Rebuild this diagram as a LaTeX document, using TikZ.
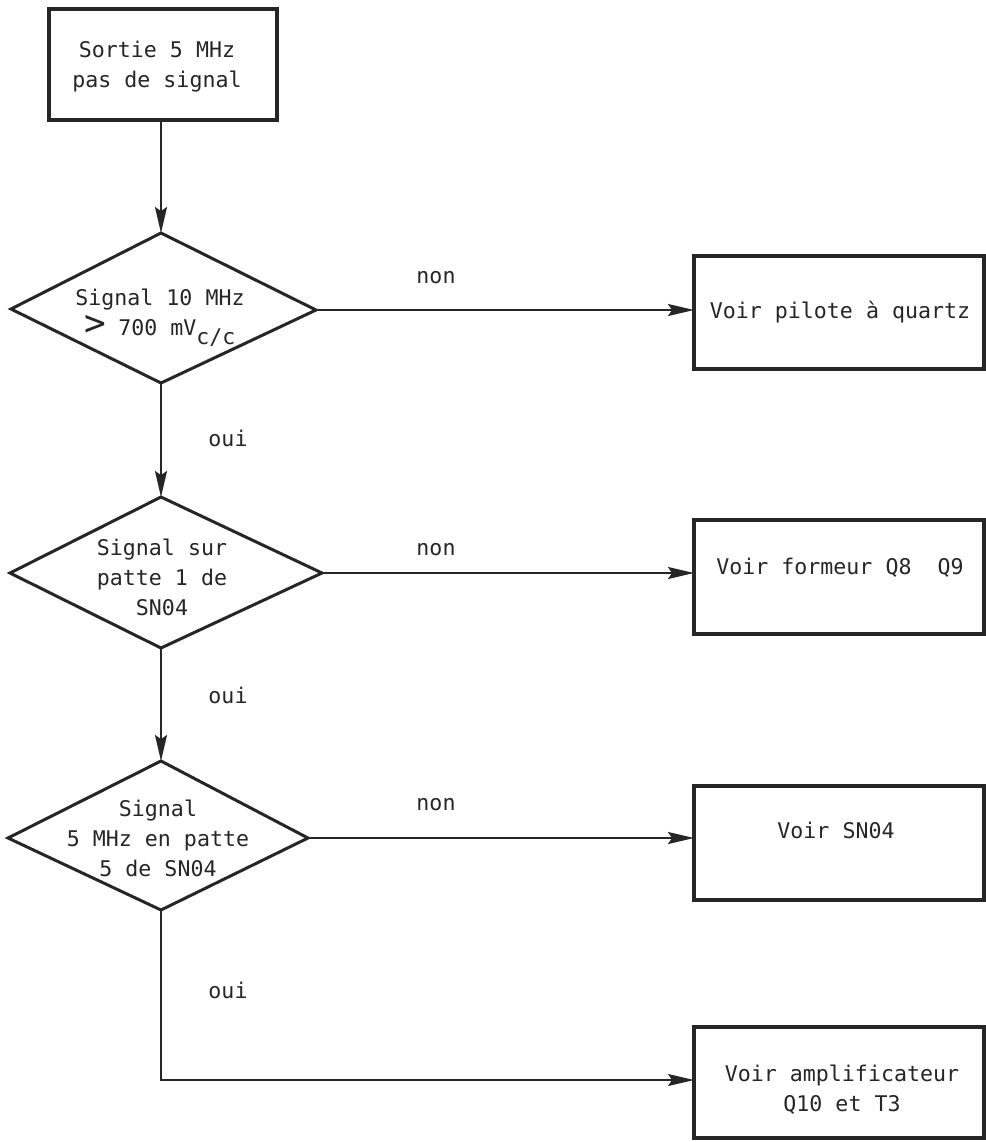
\documentclass[tikz,border=0pt]{standalone}
\usepackage{fontspec}
\setmonofont{DejaVu Sans Mono}
\usetikzlibrary{arrows.meta}
\begin{document}
\begin{tikzpicture}[x=0.5pt,y=-0.5pt,
  txt/.style={font=\ttfamily\fontsize{10.8}{15}\selectfont, text=black!85, align=center, inner sep=0pt},
  boxline/.style={draw=black!85, line width=2.1pt},
  dialine/.style={draw=black!85, line width=1.5pt, line join=miter},
  conn/.style={draw=black!85, line width=0.9pt},
  arr/.style={conn, -{Stealth[length=13pt,width=6pt,inset=2pt]}}]
\useasboundingbox (0,0) rectangle (986,1142);
\fill[white] (0,0) rectangle (986,1142);
% start box
\draw[boxline] (49,9) rectangle (277,120);
\node[txt] (start) at (157,67) {Sortie 5 MHz\\pas de signal};
\coordinate (startb) at (161,120);
% diamond 1
\coordinate (d1t) at (161,233); \coordinate (d1l) at (11,309);
\coordinate (d1r) at (316,310); \coordinate (d1b) at (161,383);
\draw[dialine] (d1t) -- (d1r) -- (d1b) -- (d1l) -- cycle;
\node[txt] (q1) at (160,318) {Signal 10 MHz\\{\fontsize{18}{15}\selectfont >}\hspace{6pt}700 mV\raisebox{-4.5pt}{c/c}};
% box 2
\draw[boxline] (694,256) rectangle (984,369);
\node[txt] (b2) at (840,312) {Voir pilote à quartz};
% diamond 2
\coordinate (d2t) at (161,497); \coordinate (d2l) at (10,573);
\coordinate (d2r) at (322,573); \coordinate (d2b) at (161,648);
\draw[dialine] (d2t) -- (d2r) -- (d2b) -- (d2l) -- cycle;
\node[txt] (q2) at (162,577) {Signal sur\\patte 1 de\\SN04};
% box 3
\draw[boxline] (694,520) rectangle (984,634);
\node[txt] (b3) at (840,568) {Voir formeur Q8\ \ Q9};
% diamond 3
\coordinate (d3t) at (161,761); \coordinate (d3l) at (8,838);
\coordinate (d3r) at (308,838); \coordinate (d3b) at (161,910);
\draw[dialine] (d3t) -- (d3r) -- (d3b) -- (d3l) -- cycle;
\node[txt] (q3) at (158,838) {Signal\\5 MHz en patte\\5 de SN04};
% box 4
\draw[boxline] (694,786) rectangle (984,900);
\node[txt] (b4) at (836,830) {Voir SN04};
% box 5
\draw[boxline] (694,1027) rectangle (984,1138);
\node[txt] (b5) at (842,1090) {Voir amplificateur\\Q10 et T3};
% connectors
\draw[arr] (startb) -- (d1t);
\draw[arr] (d1r) -- (694,310);
\draw[arr] (d1b) -- (d2t);
\draw[arr] (d2r) -- (694,573);
\draw[arr] (d2b) -- (d3t);
\draw[arr] (d3r) -- (694,838);
\coordinate (corner) at (161,1080);
\draw[arr] (d3b) -- (corner) -- (694,1080);
% labels
\node[txt] (n1) at (436,278) {non};
\node[txt] (n2) at (436,550) {non};
\node[txt] (n3) at (436,805) {non};
\node[txt] (o1) at (228,438) {oui};
\node[txt] (o2) at (228,695) {oui};
\node[txt] (o3) at (228,990) {oui};
\end{tikzpicture}
\end{document}
